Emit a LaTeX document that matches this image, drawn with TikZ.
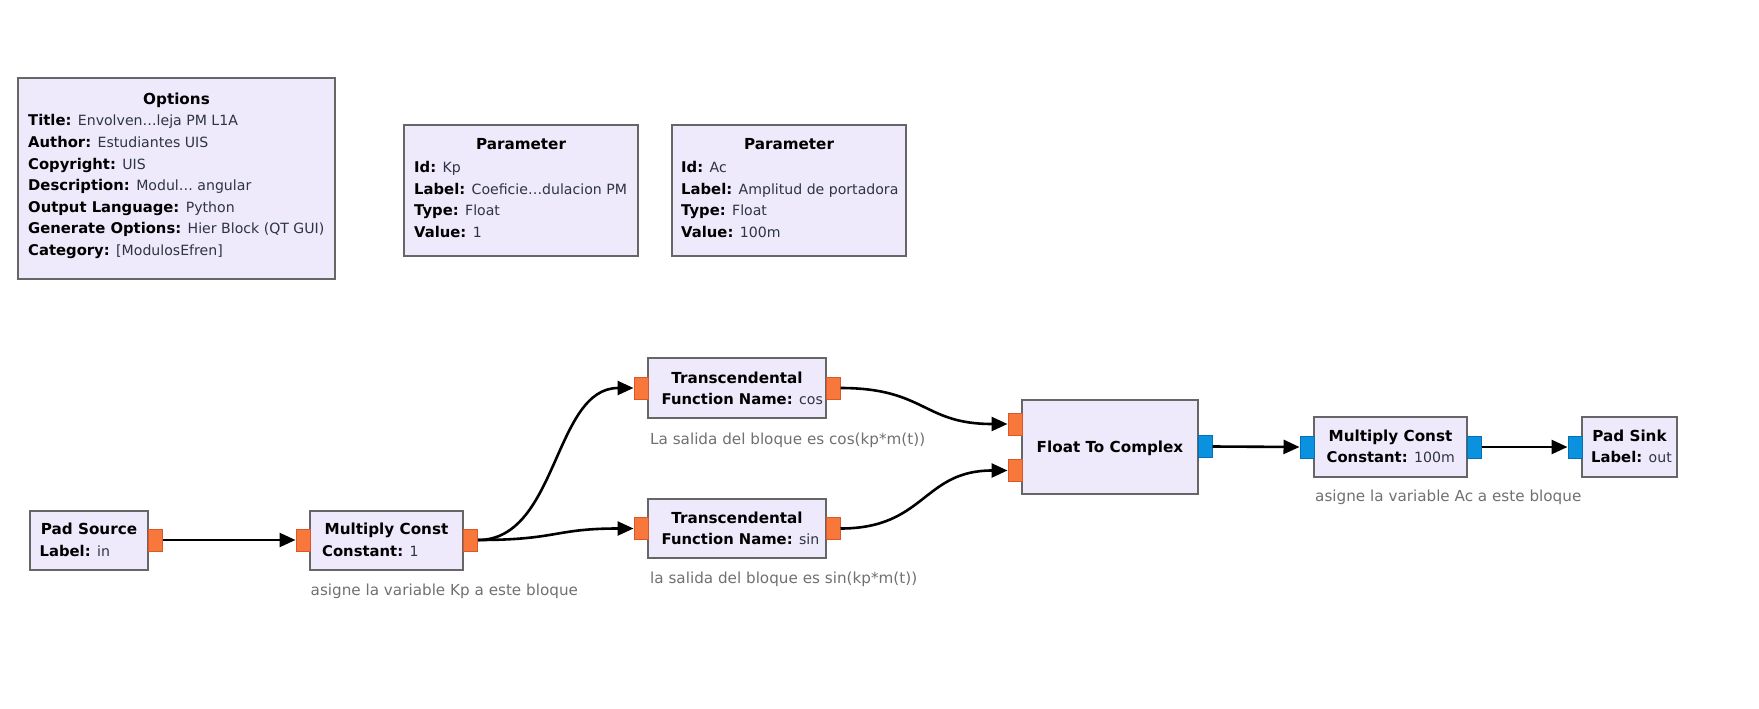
\documentclass[tikz,border=0pt]{standalone}
\usepackage{fontspec}
\setmainfont{DejaVu Sans}
\usetikzlibrary{arrows.meta}
\definecolor{boxfill}{HTML}{EEEAFB}
\definecolor{boxline}{HTML}{666666}
\definecolor{portorange}{HTML}{F7783A}
\definecolor{portorangeline}{HTML}{D9572A}
\definecolor{portblue}{HTML}{0A92E0}
\definecolor{portblueline}{HTML}{0870B0}
\definecolor{valtext}{HTML}{2E3440}
\definecolor{cmttext}{HTML}{707070}
\newcommand\fsz{\fontsize{15.2}{21.6}\selectfont}
\newcommand\fkey{\fontsize{14.8}{21.6}\selectfont}
\newcommand\fval{\fontsize{14.1}{21.6}\selectfont}
\newcommand\pkv[2]{{\fkey\bfseries #1:} {\fval\color{valtext}#2}}
\begin{document}
\begin{tikzpicture}[x=1pt,y=-1pt,
  blk/.style={draw=boxline,fill=boxfill,line width=2.8pt,inner sep=0pt},
  pin/.style={draw=portorangeline,fill=portorange,line width=1pt,inner sep=0pt,minimum width=14pt,minimum height=22pt},
  pblue/.style={pin,draw=portblueline,fill=portblue},
  ttl/.style={inner sep=0pt,anchor=base,font=\fsz\bfseries},
  bdy/.style={inner sep=0pt,anchor=base west,align=left,font=\fsz},
  cmt/.style={inner sep=0pt,anchor=base west,text=cmttext,font=\fsz},
  conn/.style={line width=2.6pt,-{Triangle[length=16pt,width=14pt]}}]
\useasboundingbox (0,0) rectangle (1759,709);

% ---- top blocks (multi-line bodies are placed by the baseline of their last line)
\node[blk,minimum width=317pt,minimum height=201pt] (opt) at (176.5,178.5) {};
\node[ttl] (optT) at (176.5,104) {Options};
\node[bdy] (optB) at (28,255.5) {\pkv{Title}{Envolven…leja PM L1A}\\
\pkv{Author}{Estudiantes UIS}\\
\pkv{Copyright}{UIS}\\
\pkv{Description}{Modul… angular}\\
\pkv{Output Language}{Python}\\
\pkv{Generate Options}{Hier Block (QT GUI)}\\
\pkv{Category}{[ModulosEfren]}};

\node[blk,minimum width=234pt,minimum height=131pt] (par1) at (521,190.5) {};
\node[ttl] (par1T) at (521,149) {Parameter};
\node[bdy] (par1B) at (414,237.5) {\pkv{Id}{Kp}\\
\pkv{Label}{Coeficie…dulacion PM}\\
\pkv{Type}{Float}\\
\pkv{Value}{1}};

\node[blk,minimum width=234pt,minimum height=131pt] (par2) at (789,190.5) {};
\node[ttl] (par2T) at (789,149) {Parameter};
\node[bdy] (par2B) at (681,237.5) {\pkv{Id}{Ac}\\
\pkv{Label}{Amplitud de portadora}\\
\pkv{Type}{Float}\\
\pkv{Value}{100m}};

% ---- flow blocks
\node[blk,minimum width=118pt,minimum height=59pt] (psrc) at (89,540.5) {};
\node[ttl] (psrcT) at (89,534) {Pad Source};
\node[bdy] (psrcB) at (39.5,556) {\pkv{Label}{in}};

\node[blk,minimum width=153pt,minimum height=59pt] (mc1) at (386.5,540.5) {};
\node[ttl] (mc1T) at (386.5,534) {Multiply Const};
\node[bdy] (mc1B) at (322,556) {\pkv{Constant}{1}};
\node[cmt] (mc1C) at (310.5,595) {asigne la variable Kp a este bloque};

\node[blk,minimum width=178pt,minimum height=60pt] (tcos) at (737,388) {};
\node[ttl] (tcosT) at (737,383) {Transcendental};
\node[bdy] (tcosB) at (661.5,404) {\pkv{Function Name}{cos}};
\node[cmt] (tcosC) at (650,444) {La salida del bloque es cos(kp*m(t))};

\node[blk,minimum width=178pt,minimum height=59pt] (tsin) at (737,528.5) {};
\node[ttl] (tsinT) at (737,523) {Transcendental};
\node[bdy] (tsinB) at (661.5,544) {\pkv{Function Name}{sin}};
\node[cmt] (tsinC) at (650,583) {la salida del bloque es sin(kp*m(t))};

\node[blk,minimum width=176pt,minimum height=94pt] (f2c) at (1110,447) {};
\node[ttl] (f2cT) at (1110,452.5) {Float To Complex};

\node[blk,minimum width=153pt,minimum height=60pt] (mc2) at (1390.5,447) {};
\node[ttl] (mc2T) at (1390.5,441) {Multiply Const};
\node[bdy] (mc2B) at (1326.5,462) {\pkv{Constant}{100m}};
\node[cmt] (mc2C) at (1315,501) {asigne la variable Ac a este bloque};

\node[blk,minimum width=95pt,minimum height=60pt] (sink) at (1629.5,447) {};
\node[ttl] (sinkT) at (1629.5,441) {Pad Sink};
\node[bdy] (sinkB) at (1591,462) {\pkv{Label}{out}};

% ---- ports
\node[pin] (psrcO) at (155.5,540) {};
\node[pin] (mc1I) at (303,540) {};
\node[pin] (mc1O) at (470.5,540) {};
\node[pin] (tcosI) at (641,388) {};
\node[pin] (tcosO) at (833,388) {};
\node[pin] (tsinI) at (641,528.5) {};
\node[pin] (tsinO) at (833,528.5) {};
\node[pin] (f2cI1) at (1015,424) {};
\node[pin] (f2cI2) at (1015,470.5) {};
\node[pblue] (f2cO) at (1205,446.5) {};
\node[pblue] (mc2I) at (1307,447) {};
\node[pblue] (mc2O) at (1474,447) {};
\node[pblue] (sinkI) at (1575,447) {};

% ---- connections
\draw[conn] (psrcO.east) -- (mc1I.west);
\draw[conn] (mc1O.east) .. controls +(80,0) and +(-80,0) .. (tcosI.west);
\draw[conn] (mc1O.east) .. controls +(80,0) and +(-80,0) .. (tsinI.west);
\draw[conn] (tcosO.east) .. controls +(85,0) and +(-85,0) .. (f2cI1.west);
\draw[conn] (tsinO.east) .. controls +(85,0) and +(-85,0) .. (f2cI2.west);
\draw[conn] (f2cO.east) -- (mc2I.west);
\draw[conn] (mc2O.east) -- (sinkI.west);
\end{tikzpicture}
\end{document}
